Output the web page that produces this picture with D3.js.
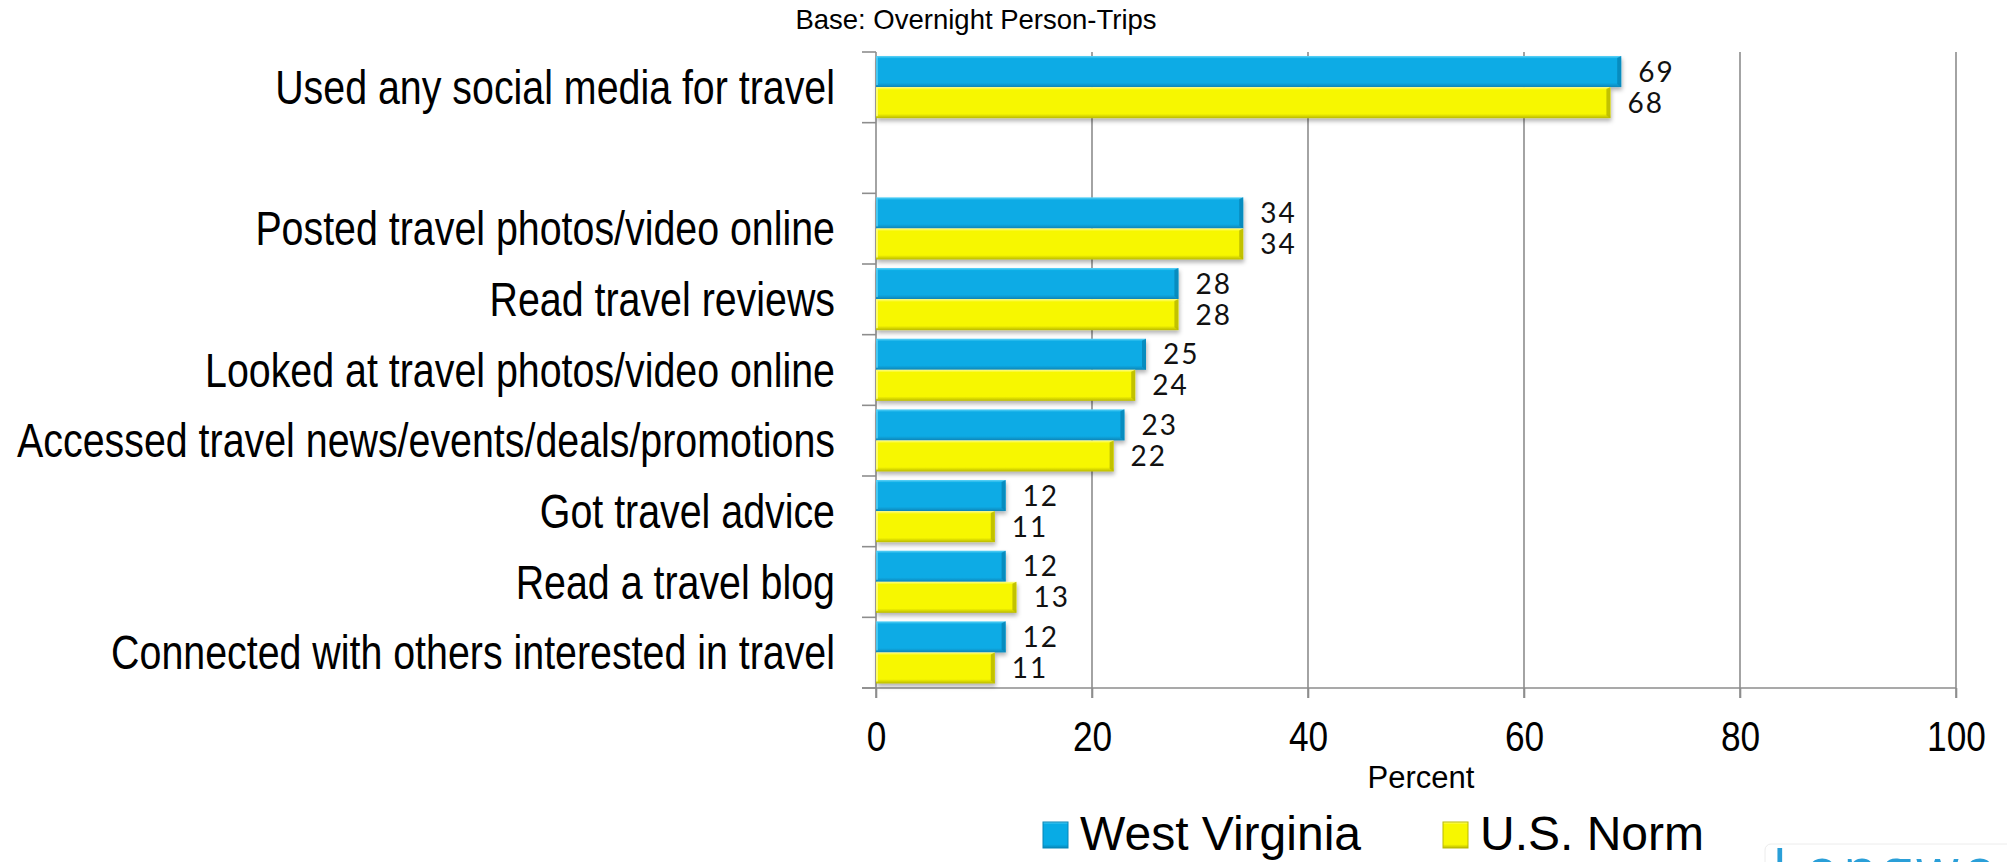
<!DOCTYPE html>
<html>
<head>
<meta charset="utf-8">
<script src="https://cdn.jsdelivr.net/npm/d3@7"></script>
<style>
  html, body { margin: 0; padding: 0; background: #ffffff; }
  svg { display: block; }
</style>
</head>
<body>
<svg id="chart" width="2007" height="862"></svg>
<script>
// Social media use for travel — overnight person-trips, percent
const categories = [
  "Used any social media for travel",
  "Posted travel photos/video online",
  "Read travel reviews",
  "Looked at travel photos/video online",
  "Accessed travel news/events/deals/promotions",
  "Got travel advice",
  "Read a travel blog",
  "Connected with others interested in travel"
];
const seriesNames = ["West Virginia", "U.S. Norm"];
const westVirginia = [69, 34, 28, 25, 23, 12, 12, 12];
const usNorm = [68, 34, 28, 24, 22, 11, 13, 11];
const xTicks = [0, 20, 40, 60, 80, 100];
const baseNote = "Base: Overnight Person-Trips";
const xTitle = "Percent";

const colors = {
  "West Virginia": { fill: "#08abe5", light: "#5fd3f7", dark: "#0786b8" },
  "U.S. Norm": { fill: "#f7f700", light: "#ffff8a", dark: "#b9b900" }
};

const svg = d3.select("#chart");
const plot = { left: 876, right: 1956, top: 52, bottom: 688 };

// Condensed sans: regular face squeezed horizontally
const narrowFont = "'Liberation Sans',Arial,sans-serif";
const NARROW = 0.82;

// One empty slot separates the headline row from the detail rows
const GAP = "\u2009";
const yDomain = [categories[0], GAP, ...categories.slice(1)];

const x = d3.scaleLinear().domain([0, 100]).range([plot.left, plot.right]);
const y = d3.scaleBand().domain(yDomain).range([plot.top, plot.bottom]);
const y1 = d3.scaleBand().domain(seriesNames).range([4, y.bandwidth() - 4.5]);

const rows = categories.map((c, i) => ({
  category: c,
  values: [
    { series: seriesNames[0], value: westVirginia[i] },
    { series: seriesNames[1], value: usNorm[i] }
  ]
}));

// Defs: drop shadow and bevel gradients
const defs = svg.append("defs");
const shadow = defs.append("filter").attr("id", "barShadow")
  .attr("x", "-5%").attr("y", "-20%").attr("width", "115%").attr("height", "160%");
shadow.append("feDropShadow").attr("dx", 1).attr("dy", 3).attr("stdDeviation", 2.2)
  .attr("flood-color", "#000").attr("flood-opacity", 0.3);

seriesNames.forEach((s, i) => {
  const c = colors[s];
  const g = defs.append("linearGradient").attr("id", "grad" + i)
    .attr("x1", 0).attr("y1", 0).attr("x2", 0).attr("y2", 1);
  g.append("stop").attr("offset", "0%").attr("stop-color", c.light);
  g.append("stop").attr("offset", "9%").attr("stop-color", c.fill);
  g.append("stop").attr("offset", "86%").attr("stop-color", c.fill);
  g.append("stop").attr("offset", "100%").attr("stop-color", c.dark);
});

// Gridlines
const gridBottom = plot.bottom + 10;
svg.append("g").selectAll("line")
  .data(xTicks.filter(t => t > 0))
  .join("line")
  .attr("x1", d => x(d)).attr("x2", d => x(d))
  .attr("y1", plot.top).attr("y2", gridBottom)
  .attr("stroke", "#8d8d8d").attr("stroke-width", 1.6);

// X axis with tick labels
const xAxis = svg.append("g")
  .attr("transform", `translate(0,${plot.bottom})`)
  .call(d3.axisBottom(x).tickValues(xTicks).tickSize(10).tickPadding(22).tickFormat(d3.format("d")));
xAxis.select(".domain").remove();
xAxis.selectAll(".tick line").attr("stroke", "#8d8d8d").attr("stroke-width", 1.6);
xAxis.selectAll(".tick text")
  .attr("fill", "#000")
  .attr("transform", `scale(${NARROW},1)`)
  .style("font-family", narrowFont)
  .style("font-size", "43px");

// Axis lines
svg.append("line")
  .attr("x1", x(0) - 14).attr("x2", x(100))
  .attr("y1", plot.bottom).attr("y2", plot.bottom)
  .attr("stroke", "#8d8d8d").attr("stroke-width", 1.6);
svg.append("line")
  .attr("x1", x(0)).attr("x2", x(0))
  .attr("y1", plot.top).attr("y2", gridBottom)
  .attr("stroke", "#8d8d8d").attr("stroke-width", 1.6);

// Y-axis ticks at band boundaries
const boundaries = yDomain.map(d => y(d)).concat([y.range()[1]]);
svg.append("g").selectAll("line")
  .data(boundaries)
  .join("line")
  .attr("x1", x(0) - 14).attr("x2", x(0))
  .attr("y1", d => d).attr("y2", d => d)
  .attr("stroke", "#8d8d8d").attr("stroke-width", 1.6);

// Bars
const rowG = svg.append("g").selectAll("g")
  .data(rows)
  .join("g")
  .attr("transform", d => `translate(0,${y(d.category)})`);

const barG = rowG.selectAll("g.bar")
  .data(d => d.values)
  .join("g")
  .attr("class", "bar");

barG.append("rect")
  .attr("x", x(0))
  .attr("y", d => y1(d.series))
  .attr("width", d => x(d.value) - x(0))
  .attr("height", y1.bandwidth())
  .attr("fill", d => `url(#grad${seriesNames.indexOf(d.series)})`)
  .attr("filter", "url(#barShadow)");

// right bevel edge
barG.append("path")
  .attr("d", d => {
    const x1 = x(d.value), y0 = y1(d.series), h = y1.bandwidth();
    return `M${x1},${y0} L${x1},${y0 + h} L${x1 - 4},${y0 + h - 3} L${x1 - 4},${y0 + 2} Z`;
  })
  .attr("fill", d => colors[d.series].dark)
  .attr("opacity", 0.85);

// left highlight edge
barG.append("rect")
  .attr("x", x(0))
  .attr("y", d => y1(d.series) + 1)
  .attr("width", 2)
  .attr("height", y1.bandwidth() - 3)
  .attr("fill", d => colors[d.series].light)
  .attr("opacity", 0.7);

// Value labels
barG.append("text")
  .attr("x", d => x(d.value) + 17)
  .attr("y", d => y1(d.series) + y1.bandwidth() / 2)
  .attr("dy", "0.36em")
  .attr("fill", "#111")
  .style("font-family", "Lato, 'Noto Sans', sans-serif")
  .style("font-size", "28px")
  .style("letter-spacing", "2px")
  .text(d => d.value);

// Category labels
svg.append("g").selectAll("text")
  .data(categories)
  .join("text")
  .attr("transform", d => `translate(${x(0) - 41},${y(d) + y.bandwidth() / 2}) scale(${NARROW},1)`)
  .attr("dy", "0.35em")
  .attr("text-anchor", "end")
  .attr("fill", "#000")
  .style("font-family", narrowFont)
  .style("font-size", "48px")
  .text(d => d);

// Base note
svg.append("text")
  .attr("x", 976).attr("y", 29)
  .attr("text-anchor", "middle")
  .attr("fill", "#000")
  .style("font-family", "'Liberation Sans',Arial,sans-serif")
  .style("font-size", "27.5px")
  .text(baseNote);

// X title
svg.append("text")
  .attr("x", (x(0) + x(100)) / 2 + 5).attr("y", 788)
  .attr("text-anchor", "middle")
  .attr("fill", "#000")
  .style("font-family", "'Liberation Sans',Arial,sans-serif")
  .style("font-size", "31px")
  .text(xTitle);

// Legend
const legend = svg.append("g").attr("transform", "translate(1043,822)");
const item = legend.selectAll("g")
  .data(seriesNames)
  .join("g")
  .attr("transform", (d, i) => `translate(${i * 400},0)`);
item.append("rect")
  .attr("width", 25).attr("height", 26)
  .attr("fill", (d, i) => `url(#grad${i})`)
  .attr("stroke", d => colors[d].dark).attr("stroke-width", 1);
item.append("text")
  .attr("x", 37).attr("y", 28)
  .attr("fill", "#000")
  .style("font-family", "'Liberation Sans',Arial,sans-serif")
  .style("font-size", "48px")
  .text(d => d);

// Logo mark peeking in at the lower right corner
const logo = svg.append("g");
logo.append("rect")
  .attr("x", 1765).attr("y", 844).attr("width", 260).attr("height", 60).attr("rx", 6)
  .attr("fill", "none").attr("stroke", "#ececec").attr("stroke-width", 1);
logo.append("text")
  .attr("x", 1772).attr("y", 889)
  .attr("fill", "#2a9fd8")
  .style("font-family", "'Open Sans', sans-serif")
  .style("font-size", "56px")
  .style("letter-spacing", "4px")
  .text("Longwoods");
</script>
</body>
</html>
